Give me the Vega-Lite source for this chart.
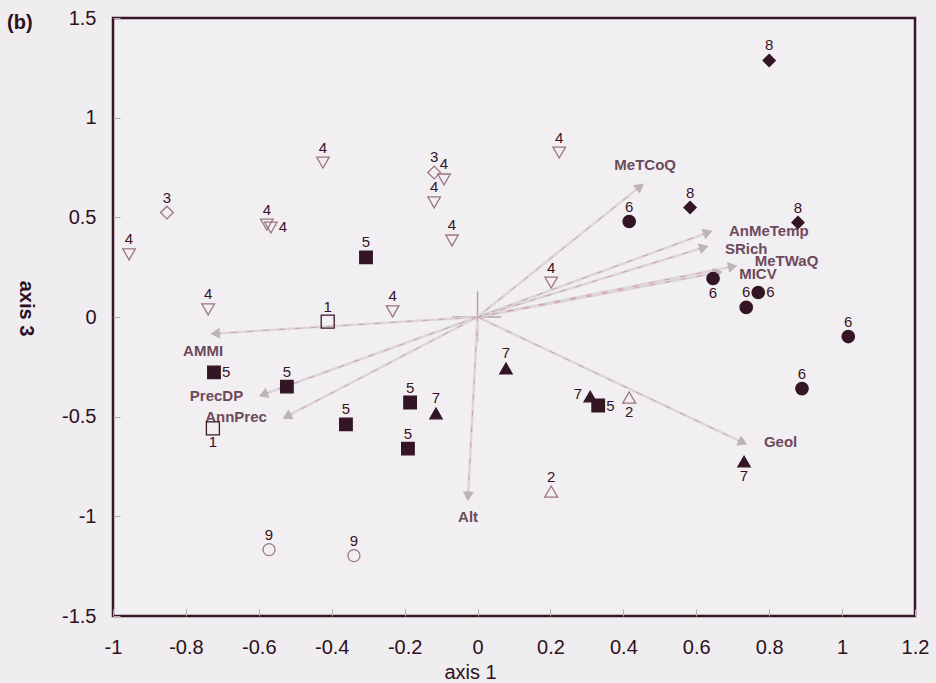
{
  "$schema": "https://vega.github.io/schema/vega-lite/v6.json",
  "width": 802,
  "height": 598,
  "autosize": "none",
  "padding": {"left": 113, "top": 18, "right": 21, "bottom": 67},
  "background": "#efedf0",
  "title": {"text": "(b)", "anchor": "start", "frame": "group", "orient": "top", "offset": 0, "dx": -106, "dy": 35, "baseline": "middle", "fontSize": 20, "font": "Liberation Sans", "fontWeight": "bold", "color": "#2e1020"},
  "config": {
    "view": {"stroke": "#3a1525", "strokeWidth": 2.5, "fill": "#f1eff2"},
    "axis": {"grid": false, "domain": false, "labelFont": "Liberation Sans", "labelFontSize": 20, "labelColor": "#2e1020", "titleFont": "Liberation Sans", "titleColor": "#2e1020", "titleFontSize": 20, "tickColor": "#b3a9af", "tickSize": -7, "tickWidth": 1}
  },
  "datasets": {
    "pts": [
      {"id": "p1", "g": 4, "x": -0.956, "y": 0.314},
      {"id": "p2", "g": 3, "x": -0.852, "y": 0.524},
      {"id": "p3", "g": 4, "x": -0.739, "y": 0.038},
      {"id": "p4", "g": 4, "x": -0.578, "y": 0.464},
      {"id": "p5", "g": 4, "x": -0.567, "y": 0.449},
      {"id": "p6", "g": 4, "x": -0.424, "y": 0.775},
      {"id": "p7", "g": 3, "x": -0.119, "y": 0.725},
      {"id": "p8", "g": 4, "x": -0.092, "y": 0.69},
      {"id": "p9", "g": 4, "x": -0.119, "y": 0.575},
      {"id": "p10", "g": 4, "x": -0.07, "y": 0.384},
      {"id": "p11", "g": 5, "x": -0.306, "y": 0.299},
      {"id": "p12", "g": 1, "x": -0.411, "y": -0.023},
      {"id": "p13", "g": 4, "x": -0.233, "y": 0.028},
      {"id": "p14", "g": 4, "x": 0.224, "y": 0.825},
      {"id": "p15", "g": 8, "x": 0.8, "y": 1.287},
      {"id": "p16", "g": 6, "x": 0.416, "y": 0.479},
      {"id": "p17", "g": 8, "x": 0.583, "y": 0.549},
      {"id": "p18", "g": 8, "x": 0.879, "y": 0.474},
      {"id": "p19", "g": 4, "x": 0.202, "y": 0.173},
      {"id": "p20", "g": 6, "x": 0.646, "y": 0.193},
      {"id": "p21", "g": 6, "x": 0.77, "y": 0.123},
      {"id": "p22", "g": 6, "x": 0.737, "y": 0.048},
      {"id": "p23", "g": 6, "x": 1.017, "y": -0.098},
      {"id": "p24", "g": 6, "x": 0.89, "y": -0.359},
      {"id": "p25", "g": 7, "x": 0.078, "y": -0.258},
      {"id": "p26", "g": 7, "x": 0.309, "y": -0.399},
      {"id": "p27", "g": 5, "x": 0.331, "y": -0.444},
      {"id": "p28", "g": 2, "x": 0.416, "y": -0.404},
      {"id": "p29", "g": 7, "x": 0.731, "y": -0.725},
      {"id": "p30", "g": 2, "x": 0.202, "y": -0.876},
      {"id": "p31", "g": 5, "x": -0.723, "y": -0.278},
      {"id": "p32", "g": 5, "x": -0.523, "y": -0.349},
      {"id": "p33", "g": 5, "x": -0.361, "y": -0.539},
      {"id": "p34", "g": 5, "x": -0.185, "y": -0.429},
      {"id": "p35", "g": 5, "x": -0.191, "y": -0.66},
      {"id": "p36", "g": 7, "x": -0.114, "y": -0.484},
      {"id": "p37", "g": 1, "x": -0.726, "y": -0.559},
      {"id": "p38", "g": 9, "x": -0.572, "y": -1.167},
      {"id": "p39", "g": 9, "x": -0.339, "y": -1.197}
    ],
    "arrows": [
      {"name": "AMMI", "x": -0.72, "y": -0.083},
      {"name": "PrecDP", "x": -0.588, "y": -0.389},
      {"name": "AnnPrec", "x": -0.523, "y": -0.499},
      {"name": "Alt", "x": -0.026, "y": -0.9},
      {"name": "Geol", "x": 0.728, "y": -0.63},
      {"name": "MeTCoQ", "x": 0.446, "y": 0.655},
      {"name": "AnMeTemp", "x": 0.632, "y": 0.424},
      {"name": "SRich", "x": 0.621, "y": 0.349},
      {"name": "MeTWaQ", "x": 0.7, "y": 0.253},
      {"name": "MICV", "x": 0.66, "y": 0.223}
    ],
    "cross": [
      {"x1": 0, "y1": -0.123, "x2": 0, "y2": 0.128},
      {"x1": -0.07, "y1": 0, "x2": 0.065, "y2": 0}
    ]
  },
  "layer": [
    {
      "data": {"name": "cross"},
      "mark": {"type": "rule", "stroke": "#b0a3ab", "strokeWidth": 1.5},
      "encoding": {
        "x": {"field": "x1", "type": "quantitative", "scale": {"domain": [-1, 1.2], "nice": false, "zero": false},
          "axis": {"values": [-1, -0.8, -0.6, -0.4, -0.2, 0, 0.2, 0.4, 0.6, 0.8, 1, 1.2], "labelExpr": "datum.value < 0 ? '-' + format(-datum.value, '~g') : format(datum.value, '~g')", "labelPadding": 28, "title": "axis 1", "titleX": 357, "titleY": 56, "titleBaseline": "middle", "titleAlign": "center", "titleFontWeight": "normal", "labelFlush": false}},
        "y": {"field": "y1", "type": "quantitative", "scale": {"domain": [-1.5, 1.5], "nice": false, "zero": false},
          "axis": {"values": [-1.5, -1, -0.5, 0, 0.5, 1, 1.5], "labelExpr": "datum.value < 0 ? '-' + format(-datum.value, '~g') : format(datum.value, '~g')", "labelPadding": 24, "title": "axis 3", "titleAngle": 90, "titleX": -88, "titleY": 290, "titleBaseline": "middle", "titleAlign": "center", "titleFontWeight": "bold", "labelFlush": false}},
        "x2": {"field": "x2"},
        "y2": {"field": "y2"}
      }
    },
    {
      "data": {"name": "arrows"},
      "mark": {"type": "rule", "stroke": "#dcd6da", "strokeWidth": 2.5},
      "encoding": {"x": {"field": "x", "type": "quantitative"}, "y": {"field": "y", "type": "quantitative"}, "x2": {"datum": 0}, "y2": {"datum": 0}}
    },
    {
      "data": {"name": "arrows"},
      "mark": {"type": "rule", "stroke": "#cf9fb0", "strokeWidth": 1, "strokeDash": [6, 10]},
      "encoding": {"x": {"field": "x", "type": "quantitative"}, "y": {"field": "y", "type": "quantitative"}, "x2": {"datum": 0}, "y2": {"datum": 0}}
    },
    {
      "data": {"name": "arrows"},
      "transform": [{"calculate": "atan2(364.5 * datum.x, 199.3 * datum.y) * 180 / PI", "as": "ang"}],
      "mark": {"type": "point", "shape": "triangle-up", "filled": true, "fill": "#bdb3b9", "opacity": 1, "size": 120},
      "encoding": {"x": {"field": "x", "type": "quantitative"}, "y": {"field": "y", "type": "quantitative"}, "angle": {"field": "ang", "type": "quantitative", "scale": null}}
    },
    {
      "data": {"name": "arrows"},
      "transform": [{"filter": "indexof(['Geol','AnMeTemp'], datum.name) >= 0"}],
      "mark": {"type": "text", "align": "left", "baseline": "middle", "dx": 21, "dy": -1, "font": "Liberation Sans", "fontSize": 15, "fontWeight": "bold", "fill": "#6d4a5b"},
      "encoding": {"x": {"field": "x", "type": "quantitative"}, "y": {"field": "y", "type": "quantitative"}, "text": {"field": "name", "type": "nominal"}}
    },
    {
      "data": {"name": "arrows"},
      "transform": [{"filter": "datum.name == 'MeTWaQ'"}],
      "mark": {"type": "text", "align": "left", "baseline": "middle", "dx": 22, "dy": -6, "font": "Liberation Sans", "fontSize": 15, "fontWeight": "bold", "fill": "#6d4a5b"},
      "encoding": {"x": {"field": "x", "type": "quantitative"}, "y": {"field": "y", "type": "quantitative"}, "text": {"field": "name", "type": "nominal"}}
    },
    {
      "data": {"name": "arrows"},
      "transform": [{"filter": "datum.name == 'MICV'"}],
      "mark": {"type": "text", "align": "left", "baseline": "middle", "dx": 21, "dy": 1, "font": "Liberation Sans", "fontSize": 15, "fontWeight": "bold", "fill": "#6d4a5b"},
      "encoding": {"x": {"field": "x", "type": "quantitative"}, "y": {"field": "y", "type": "quantitative"}, "text": {"field": "name", "type": "nominal"}}
    },
    {
      "data": {"name": "arrows"},
      "transform": [{"filter": "datum.name == 'SRich'"}],
      "mark": {"type": "text", "align": "left", "baseline": "middle", "dx": 21, "dy": 2, "font": "Liberation Sans", "fontSize": 15, "fontWeight": "bold", "fill": "#6d4a5b"},
      "encoding": {"x": {"field": "x", "type": "quantitative"}, "y": {"field": "y", "type": "quantitative"}, "text": {"field": "name", "type": "nominal"}}
    },
    {
      "data": {"name": "arrows"},
      "transform": [{"filter": "indexof(['PrecDP','AnnPrec'], datum.name) >= 0"}],
      "mark": {"type": "text", "align": "right", "baseline": "middle", "dx": -20, "dy": 1, "font": "Liberation Sans", "fontSize": 15, "fontWeight": "bold", "fill": "#6d4a5b"},
      "encoding": {"x": {"field": "x", "type": "quantitative"}, "y": {"field": "y", "type": "quantitative"}, "text": {"field": "name", "type": "nominal"}}
    },
    {
      "data": {"name": "arrows"},
      "transform": [{"filter": "datum.name == 'AMMI'"}],
      "mark": {"type": "text", "align": "center", "baseline": "middle", "dx": -12, "dy": 17, "font": "Liberation Sans", "fontSize": 15, "fontWeight": "bold", "fill": "#6d4a5b"},
      "encoding": {"x": {"field": "x", "type": "quantitative"}, "y": {"field": "y", "type": "quantitative"}, "text": {"field": "name", "type": "nominal"}}
    },
    {
      "data": {"name": "arrows"},
      "transform": [{"filter": "datum.name == 'Alt'"}],
      "mark": {"type": "text", "align": "center", "baseline": "middle", "dy": 21, "font": "Liberation Sans", "fontSize": 15, "fontWeight": "bold", "fill": "#6d4a5b"},
      "encoding": {"x": {"field": "x", "type": "quantitative"}, "y": {"field": "y", "type": "quantitative"}, "text": {"field": "name", "type": "nominal"}}
    },
    {
      "data": {"name": "arrows"},
      "transform": [{"filter": "datum.name == 'MeTCoQ'"}],
      "mark": {"type": "text", "align": "center", "baseline": "middle", "dx": 5, "dy": -21, "font": "Liberation Sans", "fontSize": 15, "fontWeight": "bold", "fill": "#6d4a5b"},
      "encoding": {"x": {"field": "x", "type": "quantitative"}, "y": {"field": "y", "type": "quantitative"}, "text": {"field": "name", "type": "nominal"}}
    },
    {
      "data": {"name": "pts"},
      "mark": {"type": "point", "filled": true, "strokeWidth": 1.3, "opacity": 1},
      "encoding": {
        "x": {"field": "x", "type": "quantitative"},
        "y": {"field": "y", "type": "quantitative"},
        "shape": {"field": "g", "type": "nominal", "legend": null, "scale": {"domain": [1, 2, 3, 4, 5, 6, 7, 8, 9], "range": ["square", "triangle-up", "diamond", "triangle-down", "square", "circle", "triangle-up", "diamond", "circle"]}},
        "fill": {"field": "g", "type": "nominal", "legend": null, "scale": {"domain": [1, 2, 3, 4, 5, 6, 7, 8, 9], "range": ["transparent", "transparent", "transparent", "transparent", "#331523", "#331523", "#331523", "#331523", "transparent"]}},
        "stroke": {"field": "g", "type": "nominal", "legend": null, "scale": {"domain": [1, 2, 3, 4, 5, 6, 7, 8, 9], "range": ["#3a1a28", "#9e7484", "#9e7484", "#9e7484", "#331523", "#331523", "#331523", "#331523", "#9e7484"]}},
        "size": {"field": "g", "type": "nominal", "legend": null, "scale": {"domain": [1, 2, 3, 4, 5, 6, 7, 8, 9], "range": [169, 144, 144, 169, 150, 120, 95, 121, 140]}}
      }
    },
    {
      "data": {"name": "pts"},
      "transform": [{"filter": "indexof(['p5','p21','p27','p31','p20','p28','p29','p37','p26'], datum.id) < 0"}],
      "mark": {"type": "text", "align": "center", "baseline": "middle", "dy": -15, "font": "Liberation Sans", "fontSize": 15, "fill": "#3a1226"},
      "encoding": {"x": {"field": "x", "type": "quantitative"}, "y": {"field": "y", "type": "quantitative"}, "text": {"field": "g", "type": "nominal"}}
    },
    {
      "data": {"name": "pts"},
      "transform": [{"filter": "indexof(['p5','p21','p27','p31'], datum.id) >= 0"}],
      "mark": {"type": "text", "align": "left", "baseline": "middle", "dx": 8, "font": "Liberation Sans", "fontSize": 15, "fill": "#3a1226"},
      "encoding": {"x": {"field": "x", "type": "quantitative"}, "y": {"field": "y", "type": "quantitative"}, "text": {"field": "g", "type": "nominal"}}
    },
    {
      "data": {"name": "pts"},
      "transform": [{"filter": "indexof(['p20','p28','p29','p37'], datum.id) >= 0"}],
      "mark": {"type": "text", "align": "center", "baseline": "middle", "dy": 14, "font": "Liberation Sans", "fontSize": 15, "fill": "#3a1226"},
      "encoding": {"x": {"field": "x", "type": "quantitative"}, "y": {"field": "y", "type": "quantitative"}, "text": {"field": "g", "type": "nominal"}}
    },
    {
      "data": {"name": "pts"},
      "transform": [{"filter": "datum.id == 'p26'"}],
      "mark": {"type": "text", "align": "right", "baseline": "middle", "dx": -8, "dy": -3, "font": "Liberation Sans", "fontSize": 15, "fill": "#3a1226"},
      "encoding": {"x": {"field": "x", "type": "quantitative"}, "y": {"field": "y", "type": "quantitative"}, "text": {"field": "g", "type": "nominal"}}
    }
  ]
}
